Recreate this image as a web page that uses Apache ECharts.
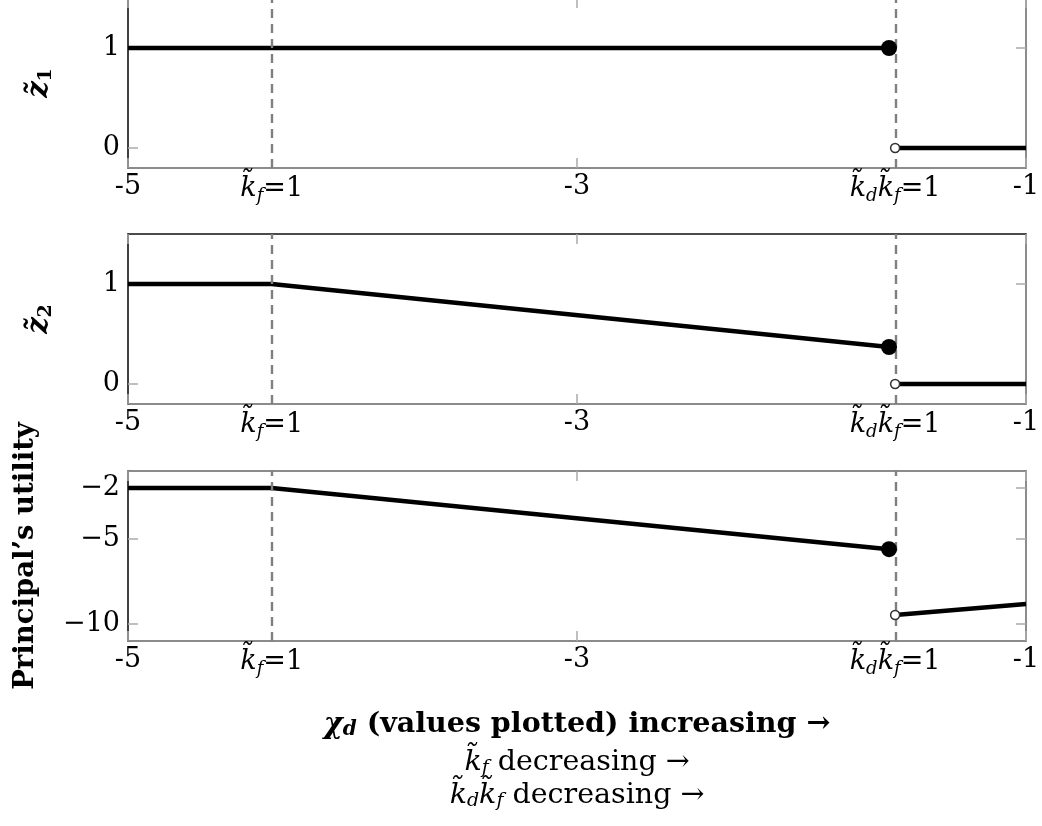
<!DOCTYPE html>
<html><head><meta charset="utf-8">
<script src="https://cdn.jsdelivr.net/npm/echarts@6/dist/echarts.min.js"></script>
<style>html,body{margin:0;padding:0;background:#fff}#c{width:1042px;height:826px}</style>
</head><body><div id="c"></div>
<script>
// ---- data ----
const xTicks = [-5, -3, -1];
const kfX = -4.36;        // k_f = 1 threshold
const kdkfX = -1.583;     // k_d k_f = 1 threshold
const z1Left = [[-5, 1], [-1.61, 1]];
const z1Right = [[-1.583, 0], [-1, 0]];
const z2Left = [[-5, 1], [-4.36, 1], [-1.61, 0.37]];
const z2Right = [[-1.583, 0], [-1, 0]];
const uLeft = [[-5, -2], [-4.36, -2], [-1.61, -5.6]];
const uRight = [[-1.583, -9.47], [-1, -8.83]];
const z1Ticks = [0, 1];
const z2Ticks = [0, 1];
const uTicks = [-10, -5, -2];

// ---- layout ----
const FONT = "'DejaVu Serif', 'Liberation Serif', serif";
const grids = [
  {left: 128, right: 16, top: -2, height: 170, outerBoundsMode: 'none', containLabel: false},
  {left: 128, right: 16, top: 234, height: 170, outerBoundsMode: 'none', containLabel: false},
  {left: 128, right: 16, top: 471, height: 170, outerBoundsMode: 'none', containLabel: false}
];
const yRanges = [[-0.2, 1.5], [-0.2, 1.5], [-11, -1]];
const yTicksList = [z1Ticks, z2Ticks, uTicks];
const yNames = ['{i|z̃}{s|1}', '{i|z̃}{s|2}', 'Principal’s utility'];
const yNameGaps = [72, 72, 88];

const richK = {
  n: {fontFamily: FONT, fontSize: 27, fontWeight: 'normal', color: '#000'},
  i: {fontFamily: FONT, fontSize: 27, fontWeight: 'normal', fontStyle: 'italic', color: '#000'},
  s: {fontFamily: FONT, fontSize: 18, fontWeight: 'normal', fontStyle: 'italic', color: '#000', padding: [14, 0, 0, 0]}
};

function xLabel(v) {
  if (Math.abs(v - kfX) < 1e-6) return '{i|k̃}{s|f}{n|=1}';
  if (Math.abs(v - kdkfX) < 1e-6) return '{i|k̃}{s|d}{i|k̃}{s|f}{n|=1}';
  return '{n|' + String(v) + '}';
}
function yLabel(v) {
  return v < 0 ? '−' + String(-v) : String(v);
}

const xAxes = [], yAxes = [], series = [];
grids.forEach((g, k) => {
  xAxes.push({
    type: 'value', gridIndex: k, min: -5, max: -1, position: 'bottom',
    splitLine: {show: false},
    axisLine: {show: true, onZero: false, lineStyle: {color: '#666', width: 1.5}},
    axisTick: {show: true, inside: true, length: 10, lineStyle: {color: '#aaa', width: 1.5}, customValues: xTicks},
    axisLabel: {show: true, margin: 5, customValues: [-5, kfX, -3, kdkfX, -1], formatter: xLabel, rich: richK,
                fontFamily: FONT, fontSize: 27, color: '#000', showMinLabel: true, showMaxLabel: true}
  });
  xAxes.push({
    type: 'value', gridIndex: k, min: -5, max: -1, position: 'top',
    splitLine: {show: false},
    axisLine: {show: true, onZero: false, lineStyle: {color: k === 2 ? '#666' : '#111', width: 1.5}},
    axisTick: {show: true, inside: true, length: 10, lineStyle: {color: '#aaa', width: 1.5}, customValues: xTicks},
    axisLabel: {show: false}
  });
  yAxes.push({
    type: 'value', gridIndex: k, min: yRanges[k][0], max: yRanges[k][1], position: 'left',
    splitLine: {show: false},
    name: yNames[k], nameLocation: 'middle', nameRotate: 90, nameGap: yNameGaps[k],
    nameTextStyle: k === 2
      ? {fontFamily: FONT, fontSize: 27.5, fontWeight: 'bold', color: '#000'}
      : {fontFamily: FONT, fontSize: 28, color: '#000', rich: {
          i: {fontFamily: FONT, fontSize: 29, fontStyle: 'italic', fontWeight: 'bold', color: '#000'},
          s: {fontFamily: FONT, fontSize: 19, fontWeight: 'bold', color: '#000', padding: [14, 0, 0, 0]}}},
    axisLine: {show: true, onZero: false, lineStyle: {color: '#000', width: 1.5}},
    axisTick: {show: true, inside: true, length: 10, lineStyle: {color: '#aaa', width: 1.5}, customValues: yTicksList[k]},
    axisLabel: {show: true, margin: 8, customValues: yTicksList[k], formatter: yLabel,
                fontFamily: FONT, fontSize: 27, color: '#000'}
  });
  yAxes.push({
    type: 'value', gridIndex: k, min: yRanges[k][0], max: yRanges[k][1], position: 'right',
    splitLine: {show: false},
    axisLine: {show: true, onZero: false, lineStyle: {color: '#666', width: 1.5}},
    axisTick: {show: true, inside: true, length: 10, lineStyle: {color: '#aaa', width: 1.5}, customValues: yTicksList[k]},
    axisLabel: {show: false}
  });
});

const panels = [[z1Left, z1Right], [z2Left, z2Right], [uLeft, uRight]];
panels.forEach((p, k) => {
  const xi = 2 * k, yi = 2 * k;
  series.push({
    type: 'line', xAxisIndex: xi, yAxisIndex: yi, data: [], z: 1, silent: true,
    markLine: {
      symbol: 'none', silent: true, label: {show: false},
      lineStyle: {color: '#808080', type: [9, 6], width: 2.4},
      data: [{xAxis: kfX}, {xAxis: kdkfX}]
    }
  });
  p.forEach(seg => {
    series.push({
      type: 'line', xAxisIndex: xi, yAxisIndex: yi, data: seg, z: 3,
      showSymbol: false, symbol: 'none', lineStyle: {color: '#000', width: 4.5}
    });
  });
  series.push({
    type: 'scatter', xAxisIndex: xi, yAxisIndex: yi, data: [p[0][p[0].length - 1]], z: 5,
    symbol: 'circle', symbolSize: 16, itemStyle: {color: '#000', opacity: 1}
  });
  series.push({
    type: 'scatter', xAxisIndex: xi, yAxisIndex: yi, data: [p[1][0]], z: 5,
    symbol: 'circle', symbolSize: 9, itemStyle: {color: '#fff', borderColor: '#333', borderWidth: 1.5, opacity: 1}
  });
});

const titleRich = {
  b: {fontFamily: FONT, fontSize: 29, fontWeight: 'bold', fontStyle: 'italic', color: '#000'},
  bs: {fontFamily: FONT, fontSize: 20, fontWeight: 'bold', fontStyle: 'italic', color: '#000', padding: [10, 0, 0, 0]},
  t: {fontFamily: FONT, fontSize: 28.5, fontWeight: 'bold', color: '#000'},
  i: {fontFamily: FONT, fontSize: 28.5, fontWeight: 'normal', fontStyle: 'italic', color: '#000'},
  s: {fontFamily: FONT, fontSize: 19, fontWeight: 'normal', fontStyle: 'italic', color: '#000', padding: [12, 0, 0, 0]},
  n: {fontFamily: FONT, fontSize: 28.5, fontWeight: 'normal', color: '#000'}
};
const titles = [
  {text: '{b|χ}{bs|d}{t| (values plotted) increasing →}', top: 710},
  {text: '{i|k̃}{s|f}{n| decreasing →}', top: 747},
  {text: '{i|k̃}{s|d}{i|k̃}{s|f}{n| decreasing →}', top: 780}
].map(t => ({text: t.text, left: 577, textAlign: 'center', top: t.top, padding: 0,
             textStyle: {rich: titleRich, fontFamily: FONT, fontWeight: 'normal'}}));

const chart = echarts.init(document.getElementById('c'), null, {renderer: 'canvas'});
chart.setOption({
  animation: false,
  backgroundColor: '#fff',
  title: titles,
  grid: grids,
  xAxis: xAxes,
  yAxis: yAxes,
  series: series
});
</script></body></html>
